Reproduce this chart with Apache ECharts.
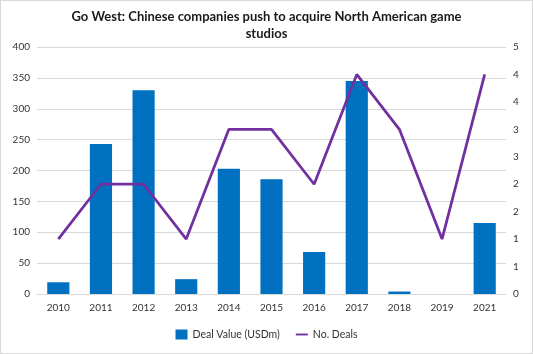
<!DOCTYPE html>
<html>
<head>
<meta charset="utf-8">
<script src="https://cdn.jsdelivr.net/npm/echarts@6/dist/echarts.min.js"></script>
<style>
  html, body { margin: 0; padding: 0; background: #fff; }
  #chart { width: 531px; height: 352px; border: 1px solid #d9d9d9; }
</style>
</head>
<body>
<div id="chart"></div>
<script>
// data
var years = ['2010', '2011', '2012', '2013', '2014', '2015', '2016', '2017', '2018', '2019', '2021'];
var dealValue = [19, 243, 330, 24, 203, 186, 68, 345, 4, 0, 115];
var dealCount = [1, 2, 2, 1, 3, 3, 2, 4, 3, 1, 4];

var myChart = echarts.init(document.getElementById('chart'));
var txt = '#333333';
var option = {
  animation: false,
  title: {
    text: 'Go West: Chinese companies push to acquire North American game\nstudios',
    left: 'center',
    top: 2,
    textStyle: { fontFamily: 'Lato', fontWeight: 'bold', fontSize: 13, color: '#1a1a1a', lineHeight: 17 }
  },
  legend: {
    bottom: 8,
    left: 'center',
    itemGap: 16,
    itemWidth: 12,
    itemHeight: 10,
    textStyle: { fontFamily: 'Lato', fontSize: 10.5, color: txt },
    data: [
      { name: 'Deal Value (USDm)', icon: 'rect', itemStyle: { color: '#0070C0' } },
      { name: 'No. Deals', icon: 'path://M0,4 L16,4 L16,6.5 L0,6.5 Z', itemStyle: { color: '#7030A0' } }
    ]
  },
  grid: { left: 36, right: 26, top: 46, bottom: 59 },
  xAxis: {
    type: 'category',
    data: years,
    axisLine: { lineStyle: { color: '#d9d9d9' } },
    axisTick: { show: false },
    axisLabel: { fontFamily: 'Lato', fontSize: 10, color: txt, margin: 9 }
  },
  yAxis: [
    {
      type: 'value',
      min: 0, max: 400, interval: 50,
      axisLine: { show: false },
      axisTick: { show: false },
      splitLine: { lineStyle: { color: '#d9d9d9' } },
      axisLabel: { fontFamily: 'Lato', fontSize: 10, color: txt, margin: 7 }
    },
    {
      type: 'value',
      min: 0, max: 4.5, interval: 0.5,
      axisLine: { show: false },
      axisTick: { show: false },
      splitLine: { show: false },
      axisLabel: {
        fontFamily: 'Lato', fontSize: 10, color: txt, margin: 7,
        formatter: function (v) { return Math.round(v); }
      }
    }
  ],
  series: [
    {
      name: 'Deal Value (USDm)',
      type: 'bar',
      data: dealValue,
      barWidth: '52%',
      itemStyle: { color: '#0070C0' }
    },
    {
      name: 'No. Deals',
      type: 'line',
      yAxisIndex: 1,
      data: dealCount,
      symbol: 'none',
      lineStyle: { color: '#7030A0', width: 2.75 },
      itemStyle: { color: '#7030A0' }
    }
  ]
};
myChart.setOption(option);
</script>
</body>
</html>
